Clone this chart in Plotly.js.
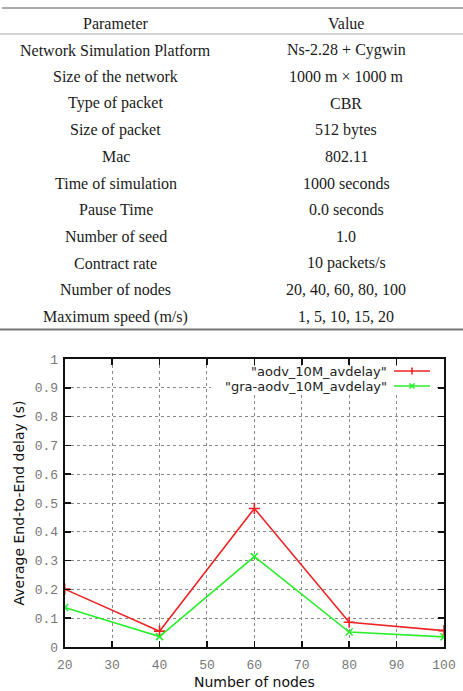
<!DOCTYPE html>
<html>
<head>
<meta charset="utf-8">
<script src="https://cdn.plot.ly/plotly-3.0.1.min.js"></script>
<style>html,body{margin:0;padding:0;background:#fff;}#chart{width:463px;height:691px;}</style>
</head>
<body>
<div id="chart"></div>
<script>
// ---- Table data ----
const tableHeader = ["Parameter", "Value"];
const parameters = ["Network Simulation Platform", "Size of the network", "Type of packet", "Size of packet", "Mac", "Time of simulation", "Pause Time", "Number of seed", "Contract rate", "Number of nodes", "Maximum speed (m/s)"];
const values = ["Ns-2.28 + Cygwin", "1000 m \u00d7 1000 m", "CBR", "512 bytes", "802.11", "1000 seconds", "0.0 seconds", "1.0", "10 packets/s", "20, 40, 60, 80, 100", "1, 5, 10, 15, 20"];

// ---- Chart data ----
const nodes = [20, 40, 60, 80, 100];
const aodvDelay = [0.201, 0.055, 0.481, 0.086, 0.057];
const graAodvDelay = [0.137, 0.036, 0.314, 0.052, 0.035];
const seriesNames = ['"aodv_10M_avdelay"', '"gra-aodv_10M_avdelay"'];
const xTickVals = [20, 30, 40, 50, 60, 70, 80, 90, 100];
const yTickVals = [0, 0.1, 0.2, 0.3, 0.4, 0.5, 0.6, 0.7, 0.8, 0.9, 1];
const yTickText = ["0", "0.1", "0.2", "0.3", "0.4", "0.5", "0.6", "0.7", "0.8", "0.9", "1"];

const W = 463, H = 691;
const px = x => x / W;
const py = y => 1 - y / H;

const RED = "#ee2424";
const GREEN = "#2aee2a";

const traces = [
  {x: nodes, y: aodvDelay, name: seriesNames[0], mode: "lines+markers",
   line: {color: RED, width: 1.6},
   marker: {symbol: "cross-thin-open", size: 8, line: {color: RED, width: 1.6}}},
  {x: nodes, y: graAodvDelay, name: seriesNames[1], mode: "lines+markers",
   line: {color: GREEN, width: 1.6},
   marker: {symbol: "x-thin-open", size: 7, line: {color: GREEN, width: 1.6}}}
];

const annotations = [];
const shapes = [];
const serif = {family: "'Liberation Serif', 'Times New Roman', Times, serif", size: 16, color: "#1a1a1a"};
const colX = [116, 346];
annotations.push({xref: "paper", yref: "paper", x: px(colX[0]), y: py(23.3), text: tableHeader[0], showarrow: false, xanchor: "center", yanchor: "middle", font: serif});
annotations.push({xref: "paper", yref: "paper", x: px(colX[1]), y: py(23.3), text: tableHeader[1], showarrow: false, xanchor: "center", yanchor: "middle", font: serif});
parameters.forEach((p, i) => {
  const yy = 50 + 26.65 * i;
  annotations.push({xref: "paper", yref: "paper", x: px(colX[0]), y: py(yy), text: p, showarrow: false, xanchor: "center", yanchor: "middle", font: serif});
  annotations.push({xref: "paper", yref: "paper", x: px(colX[1]), y: py(yy), text: values[i], showarrow: false, xanchor: "center", yanchor: "middle", font: serif});
});
shapes.push({type: "line", xref: "paper", yref: "paper", x0: px(2), x1: px(463), y0: py(8), y1: py(8), line: {color: "#555", width: 1}});
shapes.push({type: "line", xref: "paper", yref: "paper", x0: px(0), x1: px(463), y0: py(34), y1: py(34), line: {color: "#aaa", width: 1}});
shapes.push({type: "line", xref: "paper", yref: "paper", x0: px(0), x1: px(463), y0: py(329.5), y1: py(329.5), line: {color: "#777", width: 2}});

// legend box (white, hides the grid behind the key)
shapes.push({type: "rect", xref: "paper", yref: "paper", x0: px(211), x1: px(437), y0: py(366), y1: py(395), fillcolor: "#fff", line: {width: 0}, layer: "above"});
const legFont = {family: "'DejaVu Sans', sans-serif", size: 13, color: "#222"};
const legY = [371, 386];
const legCol = [RED, GREEN];
seriesNames.forEach((n, i) => {
  annotations.push({xref: "paper", yref: "paper", x: px(388), y: py(legY[i]), text: n, showarrow: false, xanchor: "right", yanchor: "middle", font: legFont, borderpad: 0});
  shapes.push({type: "line", xref: "paper", yref: "paper", x0: px(394), x1: px(430), y0: py(legY[i]), y1: py(legY[i]), line: {color: legCol[i], width: 1.6}});
  if (i === 0) {
    shapes.push({type: "line", xref: "paper", yref: "paper", x0: px(412), x1: px(412), y0: py(legY[i] - 3.5), y1: py(legY[i] + 3.5), line: {color: legCol[i], width: 1.6}});
  } else {
    shapes.push({type: "line", xref: "paper", yref: "paper", x0: px(409.5), x1: px(414.5), y0: py(legY[i] - 2.5), y1: py(legY[i] + 2.5), line: {color: legCol[i], width: 1.6}});
    shapes.push({type: "line", xref: "paper", yref: "paper", x0: px(409.5), x1: px(414.5), y0: py(legY[i] + 2.5), y1: py(legY[i] - 2.5), line: {color: legCol[i], width: 1.6}});
  }
});

const tickFont = {family: "'Liberation Mono', monospace", size: 13, color: "#777"};
const titleFont = {family: "'DejaVu Sans', sans-serif", size: 14, color: "#111"};
const axisCommon = {
  showgrid: true, griddash: "dot", gridcolor: "#8a8a8a", gridwidth: 1,
  ticks: "inside", ticklen: 6, tickwidth: 1.6, tickcolor: "#111",
  showline: true, linecolor: "#111", linewidth: 2, mirror: "ticks",
  zeroline: false, tickfont: tickFont, fixedrange: true
};

const layout = {
  width: W, height: H,
  margin: {l: 0, r: 0, t: 0, b: 0},
  paper_bgcolor: "#fff", plot_bgcolor: "#fff",
  showlegend: false,
  xaxis: Object.assign({}, axisCommon, {
    domain: [px(64.7), px(444)], range: [20, 100],
    tickmode: "array", tickvals: xTickVals,
    ticklabelstandoff: 4,
    title: {text: "Number of nodes", font: titleFont, standoff: 6}
  }),
  yaxis: Object.assign({}, axisCommon, {
    domain: [44 / H, 332 / H], range: [0, 1],
    tickmode: "array", tickvals: yTickVals, ticktext: yTickText,
    ticklabelstandoff: 2,
    title: {text: "Average End-to-End delay (s)", font: titleFont, standoff: 7}
  }),
  annotations: annotations,
  shapes: shapes
};

Plotly.newPlot("chart", traces, layout, {displayModeBar: false, staticPlot: true});
</script>
</body>
</html>
